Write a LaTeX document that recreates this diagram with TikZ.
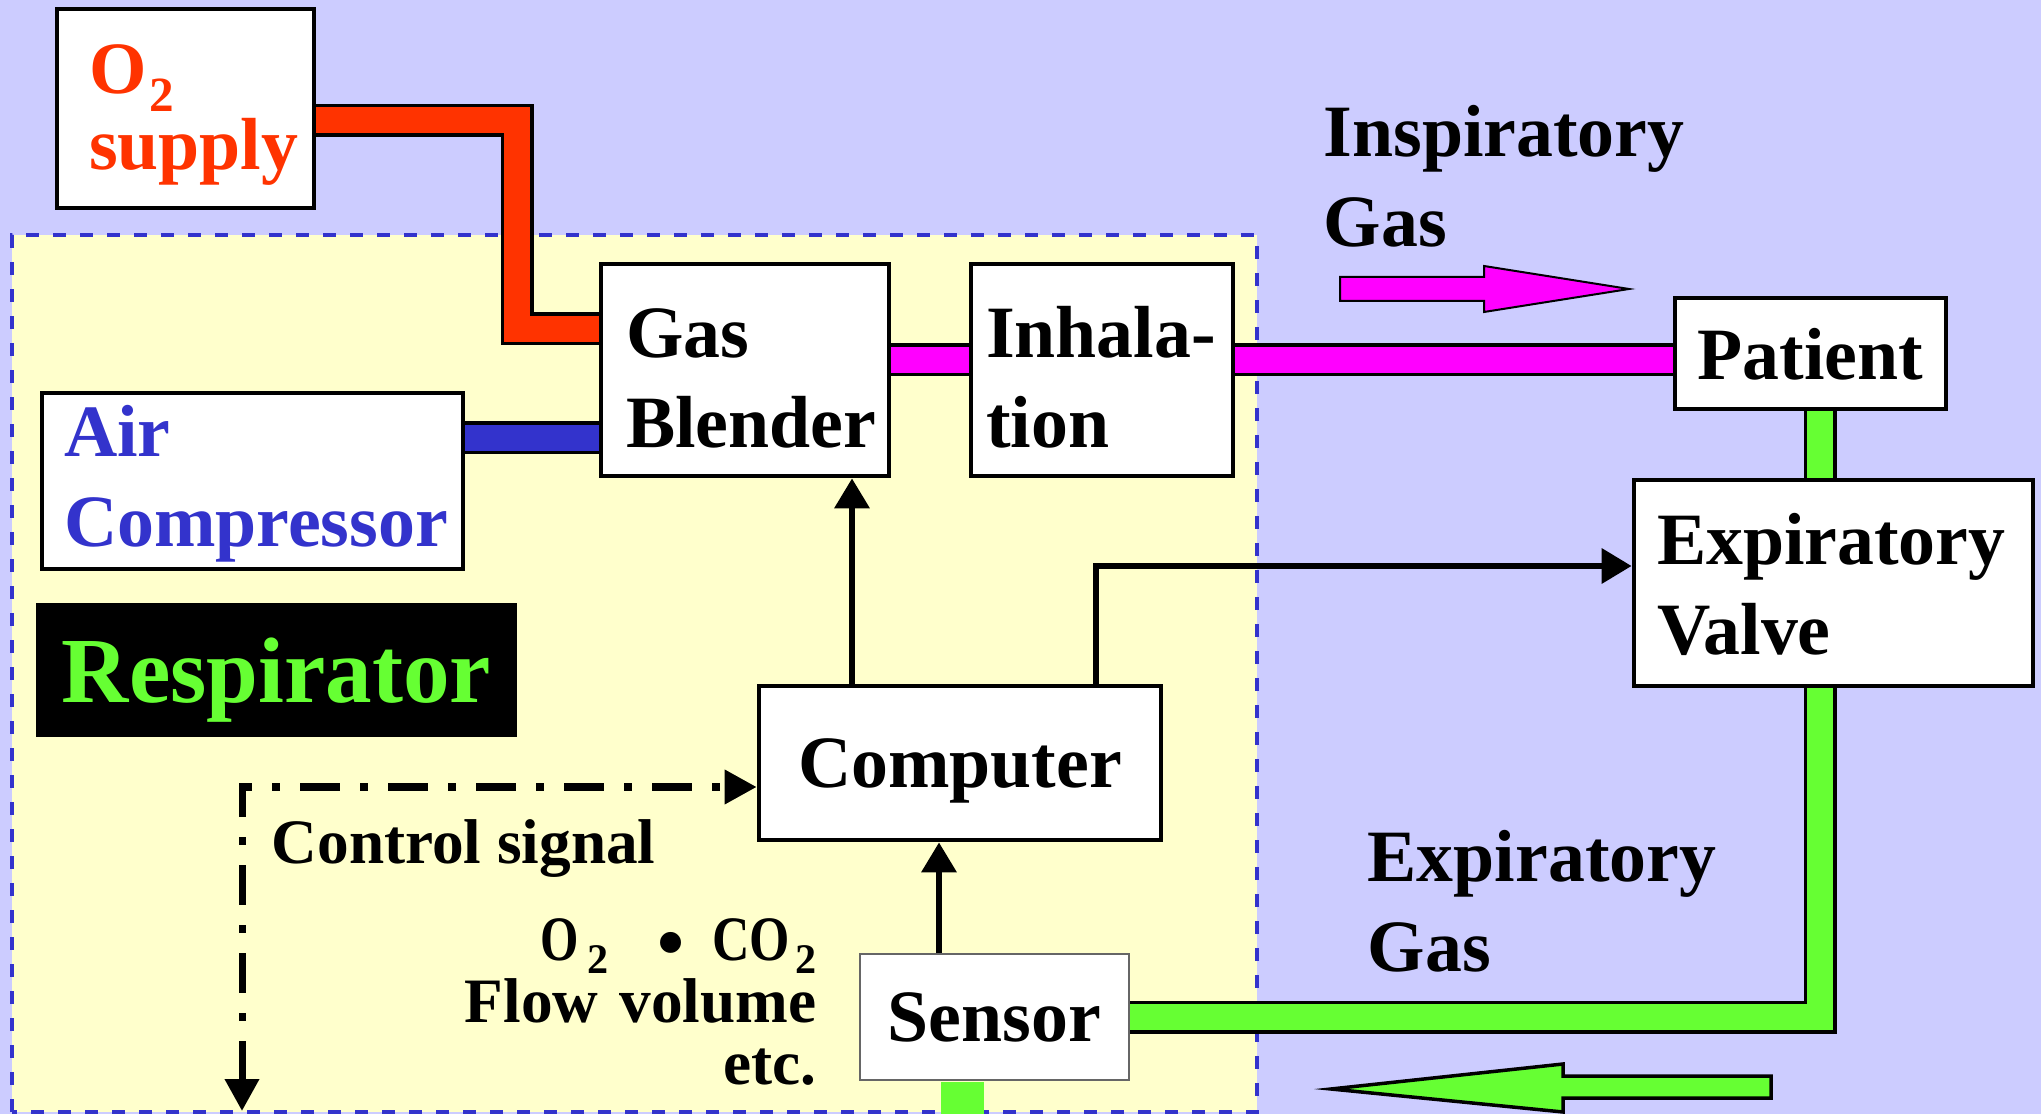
\documentclass[tikz,border=0pt]{standalone}
\usepackage{fontspec}
\setmainfont{Liberation Serif}
\usepackage{graphicx}
\usepackage{tikz}
\usetikzlibrary{arrows.meta, positioning, calc}
\definecolor{mybg}{RGB}{204,204,255}
\definecolor{myyellow}{RGB}{255,255,204}
\definecolor{myblue}{RGB}{51,51,204}
\definecolor{myred}{RGB}{255,51,0}
\definecolor{mymagenta}{RGB}{255,0,255}
\definecolor{mygreen}{RGB}{102,255,51}
\hfuzz=20pt
\newcommand{\subtwo}[2]{\raisebox{#2}{\fontsize{#1}{#1}\selectfont 2}}
\newcommand{\topstrut}[1]{\rule{0pt}{#1}}
\tikzset{
  block/.style={rectangle, draw=black, fill=white, line width=0.047cm,
    inner ysep=0pt, align=left,
    font=\fontsize{21pt}{0.9cm}\selectfont\bfseries},
  cblock/.style={rectangle, draw=black, fill=white, line width=0.047cm,
    inner sep=0pt, text depth=0pt,
    font=\fontsize{21pt}{0.9cm}\selectfont\bfseries},
  pipe/.style={line width=0.035cm, double=#1, double distance=0.26cm},
  arrow/.style={-{Triangle[length=0.3cm, width=0.34cm]}, line width=0.065cm},
  ctrlarrow/.style={{Triangle[length=0.32cm, width=0.33cm]}-{Triangle[length=0.32cm, width=0.33cm]},
    line width=0.07cm, dash pattern=on 0.4cm off 0.2cm on 0.08cm off 0.2cm},
  gaslabel/.style={anchor=base west, text width=4cm, align=left, inner sep=0pt,
    font=\fontsize{21pt}{0.9cm}\selectfont\bfseries},
  note/.style={inner sep=0pt, font=\fontsize{18pt}{0.62cm}\selectfont\bfseries},
  region/.style={draw=myblue, fill=myyellow, line width=0.035cm,
    dash pattern=on 0.13cm off 0.14cm}
}

\begin{document}
\begin{tikzpicture}
  \useasboundingbox (0,0) rectangle (20.41,11.14);
  \fill[mybg] (0,0) rectangle (20.41,11.14);
  \draw[region] (0.12,0.02) rectangle (12.57,8.79);

  \node[block, text=myred, inner xsep=0.32cm, text width=1.93cm, minimum height=1.99cm,
    font=\fontsize{21pt}{0.76cm}\selectfont\bfseries] (o2) at (1.855,10.055)
    {\topstrut{0.62cm}O\hspace{0.03cm}\subtwo{14pt}{-0.18cm}\\supply};
  \node[block, text=myblue, inner xsep=0.22cm, text width=3.77cm, minimum height=1.76cm] (air) at (2.525,6.33)
    {\topstrut{0.57cm}Air\\Compressor};
  \node[block, inner xsep=0.25cm, text width=2.38cm, minimum height=2.12cm] (gb) at (7.45,7.44)
    {\topstrut{0.66cm}Gas\\Blender};
  \node[block, inner xsep=0.15cm, text width=2.32cm, minimum height=2.12cm] (inh) at (11.02,7.44)
    {\topstrut{0.66cm}Inhala-\\tion};
  \node[cblock, minimum width=2.71cm, minimum height=1.11cm] (pat) at (18.105,7.605) {Patient};
  \node[block, inner xsep=0.23cm, text width=3.53cm, minimum height=2.06cm] (ev) at (18.335,5.31)
    {\topstrut{0.55cm}Expiratory\\Valve};
  \node[cblock, minimum width=4.02cm, minimum height=1.54cm] (comp) at (9.60,3.51) {Computer};
  \node[cblock, draw=black!60, line width=0.015cm, minimum width=2.69cm, minimum height=1.26cm] (sen) at (9.945,0.97) {Sensor};
  \node[rectangle, fill=black, text=mygreen, inner sep=0pt, text depth=0pt, minimum width=4.81cm, minimum height=1.34cm,
    font=\fontsize{26.5pt}{30pt}\selectfont\bfseries] (resp) at (2.765,4.44) {Respirator};

  \node[gaslabel] (insp) at (13.23,9.57) {Inspiratory\\Gas};
  \node[gaslabel] (expg) at (13.67,2.33) {Expiratory\\Gas};
  \node[note, anchor=base west] (ctrltxt) at (2.71,2.51) {Control signal};
  \node[note, anchor=base east, text width=3.6cm, align=right] (meas) at (8.17,1.54)
    {\scalebox{0.78}[1]{O}\hspace{0.08cm}\subtwo{12pt}{-0.13cm}\hspace{0.49cm}%
     \raisebox{-0.08cm}{\fontsize{22pt}{22pt}\selectfont •}\hspace{0.28cm}\scalebox{0.82}[1]{CO}\hspace{0.05cm}\subtwo{12pt}{-0.13cm}\\
     Flow volume\\etc.};

  \coordinate (airout) at ([yshift=0.43cm]air.east);
  \coordinate (gbout) at ([yshift=0.1cm]gb.east);
  \coordinate (inhout) at ([yshift=0.1cm]inh.east);
  \coordinate (gx) at (18.2,0);
  \draw[pipe=myred] ([yshift=-0.12cm]o2.east) -- ++(2.01,0) |- ([yshift=0.41cm]gb.west);
  \draw[pipe=myblue] (airout) -- (airout -| gb.west);
  \draw[pipe=mymagenta] (gbout) -- (gbout -| inh.west);
  \draw[pipe=mymagenta] (inhout) -- (inhout -| pat.west);
  \draw[pipe=mygreen] (pat.south -| gx) -- (ev.north -| gx);
  \draw[pipe=mygreen] (ev.south -| gx) |- (sen.east);
  \fill[mygreen] (9.41,0) rectangle (9.84,0.32);

  \coordinate (cbx) at (8.52,0);
  \coordinate (cvx) at (10.96,0);
  \coordinate (scx) at (9.39,0);
  \coordinate (ctl) at (2.42,0.03);
  \draw[arrow] (comp.north -| cbx) -- (gb.south -| cbx);
  \draw[arrow] (comp.north -| cvx) |- ([yshift=0.17cm]ev.west);
  \draw[arrow] (sen.north -| scx) -- (comp.south -| scx);
  \draw[ctrlarrow] (ctl) |- ([yshift=-0.24cm]comp.west);

  \draw[line width=0.02cm, fill=mymagenta] (13.40,8.13) -- (14.84,8.13) -- (14.84,8.02) -- (16.29,8.25)
    -- (14.84,8.48) -- (14.84,8.37) -- (13.40,8.37) -- cycle;
  \draw[line width=0.035cm, fill=mygreen] (17.71,0.16) -- (15.63,0.16) -- (15.63,0.02) -- (13.31,0.25)
    -- (15.63,0.50) -- (15.63,0.38) -- (17.71,0.38) -- cycle;
\end{tikzpicture}
\end{document}
